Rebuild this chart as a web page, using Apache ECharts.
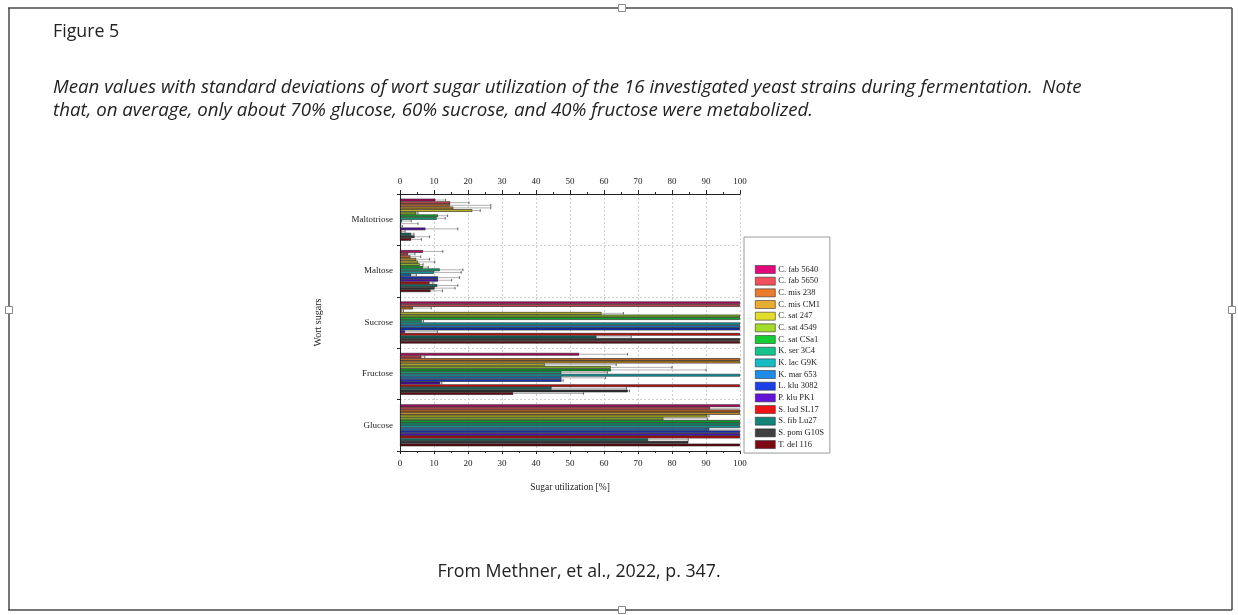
<!DOCTYPE html>
<html>
<head>
<meta charset="utf-8">
<script src="https://cdn.jsdelivr.net/npm/echarts@6/dist/echarts.min.js"></script>
<style>
  html, body { margin: 0; padding: 0; background: #ffffff; }
  #chart { width: 1238px; height: 615px; }
</style>
</head>
<body>
<div id="chart"></div>
<script>
// Wort sugars (category axis, top to bottom)
const sugars = ['Maltotriose', 'Maltose', 'Sucrose', 'Fructose', 'Glucose'];

// Yeast strains and their colours
const strains = [
  'C. fab 5640', 'C. fab 5650', 'C. mis 238', 'C. mis CM1', 'C. sat 247', 'C. sat 4549',
  'C. sat CSa1', 'K. ser 3C4', 'K. lac G9K', 'K. mar 653', 'L. klu 3082', 'P. klu PK1',
  'S. lud SL17', 'S. fib Lu27', 'S. pom G10S', 'T. del 116'
];
const strainColors = [
  '#e0087a', '#f0505c', '#e87c2c', '#e8ac30', '#e2dc2c', '#a4dc2c',
  '#14cc34', '#14c48c', '#14bcc4', '#1c8ce8', '#1c40e8', '#6414d8',
  '#ec1414', '#148478', '#404040', '#7c0814'
];

// Mean sugar utilization [%] per strain
const maltotrioseMean = [10.4, 14.8, 14.7, 15.7, 21.3, 4.8, 11.2, 10.8, 0.6, 0.3, 0.2, 7.5, 0.5, 3.3, 4.3, 3.3];
const maltoseMean     = [6.8, 2.4, 3.1, 4.8, 5.3, 5.8, 6.8, 11.7, 10.0, 3.3, 11.2, 11.2, 8.7, 11.0, 10.2, 9.0];
const sucroseMean     = [100, 100, 3.8, 0.5, 59.3, 100, 100, 6.4, 100, 100, 100, 1.5, 100, 57.8, 100, 100];
const fructoseMean    = [52.7, 6.3, 100, 100, 42.6, 62.0, 62.0, 47.5, 100, 47.5, 47.5, 11.8, 100, 44.6, 67.0, 33.3];
const glucoseMean     = [100, 91.2, 100, 100, 90.4, 77.5, 100, 100, 100, 91.0, 100, 100, 100, 73.0, 84.8, 100];

// Standard deviations [%] per strain
const maltotrioseSd = [3.0, 5.5, 12.0, 11.0, 2.3, 0.5, 2.8, 2.5, 2.7, 5.0, 0.5, 9.5, 1.0, 0.8, 4.4, 3.0];
const maltoseSd     = [5.8, 2.0, 3.0, 3.9, 4.9, 1.0, 1.5, 6.8, 8.0, 1.5, 6.3, 4.0, 1.0, 6.0, 6.0, 3.5];
const sucroseSd     = [0, 0, 5.4, 0.5, 6.4, 0, 0, 0.5, 0, 0, 0, 9.5, 0, 10.2, 0, 0];
const fructoseSd    = [14.2, 1.0, 0, 0, 21.0, 18.0, 28.0, 13.5, 0, 13.0, 0.5, 0.5, 0, 22.0, 0.5, 20.7];
const glucoseSd     = [0, 9.0, 0, 0, 0.5, 13.0, 0, 0, 0, 9.0, 0, 0, 0, 11.8, 0, 0];

// Value axis ticks
const xMin = 0, xMax = 100, xStep = 10;

const means = [maltotrioseMean, maltoseMean, sucroseMean, fructoseMean, glucoseMean];
const sds = [maltotrioseSd, maltoseSd, sucroseSd, fructoseSd, glucoseSd];

const BAR_FRAC = 0.051; // bar thickness as a share of the category band
const serif = '"Liberation Serif", "DejaVu Serif", serif';

// Bars are printed a shade darker than the legend swatches
function shade(hex, f) {
  const n = parseInt(hex.slice(1), 16);
  const r = Math.round(((n >> 16) & 255) * f);
  const g = Math.round(((n >> 8) & 255) * f);
  const b = Math.round((n & 255) * f);
  return 'rgb(' + r + ',' + g + ',' + b + ')';
}

const barSeries = strains.map((name, i) => ({
  name: name,
  type: 'bar',
  xAxisIndex: 0,
  yAxisIndex: 0,
  barWidth: (BAR_FRAC * 100) + '%',
  barGap: '0%',
  data: sugars.map((s, j) => means[j][i]),
  itemStyle: { color: shade(strainColors[i], 0.82), borderColor: '#1a1a1a', borderWidth: 0.6 },
  emphasis: { disabled: true },
  z: 2
}));

// Error bars: one item per strain and sugar [mean, sugarIndex, sd, strainIndex]
const errData = [];
strains.forEach((name, i) => {
  sugars.forEach((s, j) => {
    if (sds[j][i] > 0) errData.push([means[j][i], j, sds[j][i], i]);
  });
});

const errSeries = {
  type: 'custom',
  xAxisIndex: 0,
  yAxisIndex: 0,
  silent: true,
  z: 4,
  encode: { x: 0, y: 1 },
  data: errData,
  renderItem: function (params, api) {
    const v = api.value(0), j = api.value(1), sd = api.value(2), i = api.value(3);
    const band = api.size([0, 1])[1];
    const bw = band * BAR_FRAC;
    const start = api.coord([v, j]);
    const y = start[1] - strains.length * bw / 2 + (i + 0.5) * bw;
    const endVal = Math.min(v + sd, xMax);
    const xe = api.coord([endVal, j])[0];
    const children = [{
      type: 'line',
      shape: { x1: start[0], y1: y, x2: xe, y2: y },
      style: { stroke: '#b0b0b0', lineWidth: 1 }
    }];
    if (v + sd < xMax) {
      children.push({
        type: 'line',
        shape: { x1: xe, y1: y - bw / 2, x2: xe, y2: y + bw / 2 },
        style: { stroke: '#444', lineWidth: 0.8 }
      });
    }
    return { type: 'group', children: children };
  }
};

// Page frame and resize handles
const frameColor = '#4a4a4a';
function handle(cx, cy) {
  return {
    type: 'rect', shape: { x: cx - 3.5, y: cy - 3.5, width: 7, height: 7 },
    style: { fill: '#ffffff', stroke: '#8a8a8a', lineWidth: 1 }, z: 10
  };
}

const docFont = '"Open Sans", Lato, sans-serif';

const option = {
  animation: false,
  backgroundColor: '#ffffff',
  grid: { left: 400, right: 498, top: 194, bottom: 164, containLabel: false },
  legend: {
    data: strains.map((name, i) => ({ name: name, itemStyle: { color: strainColors[i] } })),
    orient: 'vertical',
    left: 744,
    top: 237,
    itemWidth: 20,
    itemHeight: 8,
    itemGap: 2.67,
    icon: 'rect',
    padding: [28, 6, 4, 11],
    borderColor: '#9a9a9a',
    borderWidth: 1,
    selectedMode: false,
    itemStyle: { borderColor: '#333', borderWidth: 0.6 },
    textStyle: { fontFamily: serif, fontSize: 8.5, lineHeight: 8, color: '#222', padding: [0, 0, 0, -2] }
  },
  xAxis: [
    {
      type: 'value', position: 'bottom', min: xMin, max: xMax, interval: xStep,
      name: 'Sugar utilization [%]', nameLocation: 'middle', nameGap: 31,
      nameTextStyle: { fontFamily: serif, fontSize: 9.5, color: '#222' },
      axisLine: { show: true, lineStyle: { color: '#222', width: 1 } },
      axisTick: { show: true, length: 3, lineStyle: { color: '#222' } },
      minorTick: { show: true, splitNumber: 2, length: 2, lineStyle: { color: '#222' } },
      axisLabel: { fontFamily: serif, fontSize: 9, color: '#222', margin: 8 },
      splitLine: { show: true, lineStyle: { color: '#cfcfcf', type: [2, 2], width: 1 } }
    },
    {
      type: 'value', position: 'top', min: xMin, max: xMax, interval: xStep,
      axisLine: { show: true, lineStyle: { color: '#222', width: 1 } },
      axisTick: { show: true, length: 4, lineStyle: { color: '#222' } },
      minorTick: { show: true, splitNumber: 2, length: 2, lineStyle: { color: '#222' } },
      axisLabel: { fontFamily: serif, fontSize: 9, color: '#222', margin: 8 },
      splitLine: { show: false }
    }
  ],
  yAxis: {
    type: 'category', data: sugars, inverse: true,
    name: 'Wort sugars', nameLocation: 'middle', nameGap: 77, nameRotate: 90,
    nameTextStyle: { fontFamily: serif, fontSize: 10, color: '#222' },
    axisLine: { show: true, lineStyle: { color: '#222', width: 1 } },
    axisTick: { show: true, length: 3, lineStyle: { color: '#222' } },
    axisLabel: { fontFamily: serif, fontSize: 9, color: '#222', margin: 7 },
    splitLine: { show: true, lineStyle: { color: '#cfcfcf', type: [2, 2], width: 1 } }
  },
  series: barSeries.concat([errSeries]),
  graphic: [
    // frame
    { type: 'line', shape: { x1: 8, y1: 8, x2: 1232, y2: 8 }, style: { stroke: frameColor, lineWidth: 1.5 }, z: 9 },
    { type: 'line', shape: { x1: 9, y1: 8, x2: 9, y2: 610 }, style: { stroke: frameColor, lineWidth: 1.5 }, z: 9 },
    { type: 'line', shape: { x1: 1232, y1: 8, x2: 1232, y2: 610 }, style: { stroke: frameColor, lineWidth: 1.5 }, z: 9 },
    { type: 'line', shape: { x1: 8, y1: 610, x2: 1232, y2: 610 }, style: { stroke: frameColor, lineWidth: 1.5 }, z: 9 },
    handle(622, 8), handle(9, 310), handle(1232, 310), handle(622, 610),
    // document text
    { type: 'text', x: 53, y: 32, style: { text: 'Figure 5', font: '17.8px ' + docFont, fill: '#222', verticalAlign: 'middle' } },
    { type: 'text', x: 53, y: 88, style: {
      text: 'Mean values with standard deviations of wort sugar utilization of the 16 investigated yeast strains during fermentation.  Note',
      font: 'italic 18.7px ' + docFont, fill: '#222', verticalAlign: 'middle' } },
    { type: 'text', x: 53, y: 111, style: {
      text: 'that, on average, only about 70% glucose, 60% sucrose, and 40% fructose were metabolized.',
      font: 'italic 18.7px ' + docFont, fill: '#222', verticalAlign: 'middle' } },
    { type: 'text', x: 579, y: 572, style: {
      text: 'From Methner, et al., 2022, p. 347.', font: '17.8px ' + docFont, fill: '#222',
      align: 'center', verticalAlign: 'middle' } }
  ]
};

const chart = echarts.init(document.getElementById('chart'), null, { renderer: 'canvas' });
chart.setOption(option);
</script>
</body>
</html>
